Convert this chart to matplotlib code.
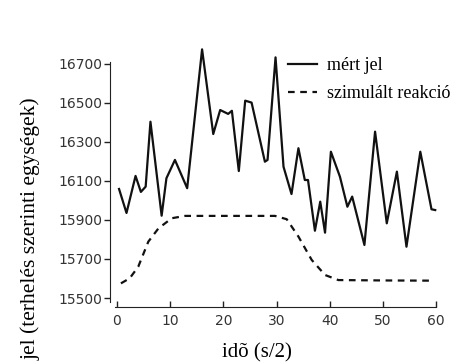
import matplotlib.pyplot as plt

t_meas = [0.4, 1.8, 3.5, 4.5, 5.4, 6.3, 8.4, 9.3, 10.9, 13.2, 16.0, 18.1, 19.4,
          20.9, 21.6, 22.9, 24.1, 25.3, 27.8, 28.3, 29.8, 31.3, 32.8, 34.1,
          35.3, 35.9, 37.2, 38.2, 39.1, 40.2, 41.9, 43.3, 44.2, 46.5, 48.5,
          50.7, 52.6, 54.4, 57.0, 59.1, 59.8]
y_meas = [16059, 15936, 16126, 16044, 16071, 16404, 15922, 16114, 16208, 16063,
          16775, 16341, 16464, 16444, 16460, 16151, 16512, 16502, 16199, 16208,
          16734, 16173, 16033, 16268, 16105, 16105, 15845, 15994, 15835, 16250,
          16122, 15968, 16020, 15772, 16353, 15883, 16148, 15763, 16250, 15955,
          15951]

# simulated response
t_sim = [0.75, 2.4, 4.0, 5.9, 7.8, 10.3, 12.8, 20, 29.7, 31.9, 34.1, 36.6,
         39.1, 41.6, 50, 58.8]
y_sim = [15575, 15601, 15660, 15789, 15857, 15909, 15921, 15921, 15921, 15904,
         15815, 15695, 15618, 15592, 15590, 15589]

yticks = [15500, 15700, 15900, 16100, 16300, 16500, 16700]
xticks = [0, 10, 20, 30, 40, 50, 60]

fig = plt.figure(figsize=(4.74, 3.64), dpi=100)
ax = fig.add_axes([110 / 474, 1 - 302 / 364, 330 / 474, 262 / 364])

ax.plot(t_meas, y_meas, color='#111111', lw=1.6, label='mért jel',
        solid_joinstyle='round')
ax.plot(t_sim, y_sim, color='#111111', lw=1.6, ls=(0, (3, 2.5)),
        label='szimulált reakció')

ax.set_xlim(-1.3, 60.7)
ax.set_ylim(15479.5, 16823)
ax.set_xticks(xticks)
ax.set_yticks(yticks)

for s in ['top', 'right']:
    ax.spines[s].set_visible(False)
ax.spines['left'].set_bounds(15480, 16710)
ax.spines['bottom'].set_bounds(-0.3, 60)
ax.spines['bottom'].set_position(('outward', 3.5))
ax.spines['left'].set_color('#222222')
ax.spines['bottom'].set_color('#222222')

ax.tick_params(axis='y', direction='out', length=4, width=1, colors='#222222',
               labelcolor='#333333', labelsize=10, pad=1.5)
ax.tick_params(axis='x', direction='in', length=4, width=1, colors='#222222',
               labelcolor='#333333', labelsize=10, pad=5)

serif = ['Liberation Serif', 'DejaVu Serif']
fig.text(257 / 474, 1 - 357 / 364, 'idõ (s/2)', fontfamily=serif, fontsize=15,
         ha='center', va='baseline')
fig.text(31 / 474, 1 - 97 / 364, 'jel (terhelés szerinti egységek)',
         rotation=90, fontfamily=serif, fontsize=15.5, ha='center', va='top')

leg = fig.legend(loc='upper left', bbox_to_anchor=(288 / 474, 1 - 57 / 364),
                 frameon=False, borderpad=0, borderaxespad=0,
                 prop={'family': serif, 'size': 13}, handlelength=1.6,
                 handletextpad=0.55, labelspacing=0.62)

fig.savefig('out.png', dpi=100)
